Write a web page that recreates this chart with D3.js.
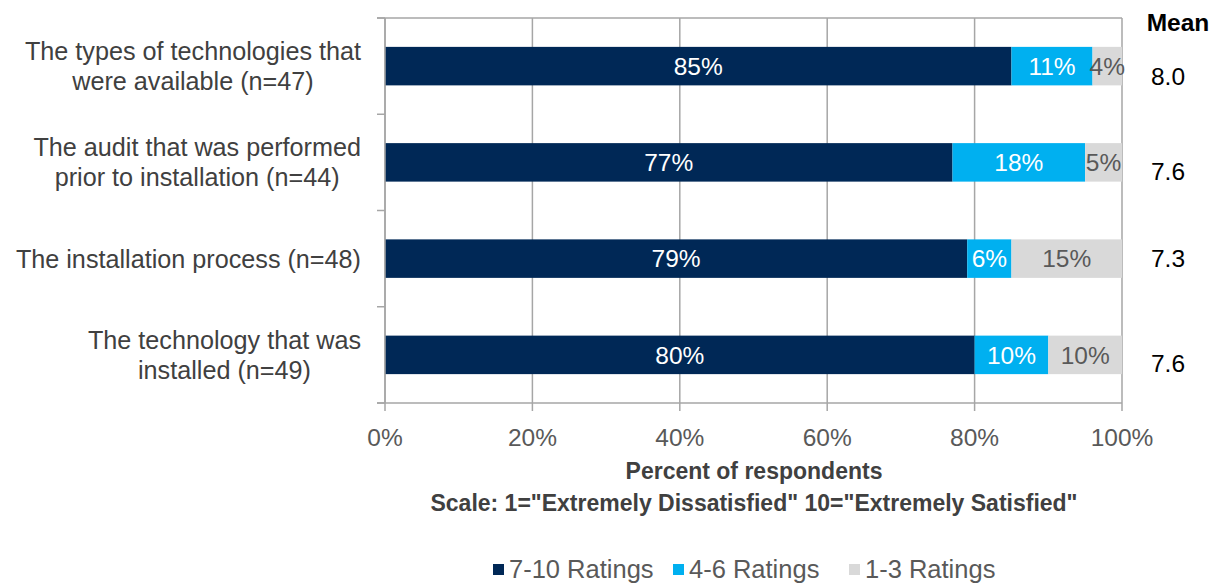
<!DOCTYPE html>
<html><head><meta charset="utf-8">
<script src="https://cdn.jsdelivr.net/npm/d3@7"></script>
<style>body{margin:0;background:#fff;} text{font-family:"Liberation Sans",Arial,sans-serif;}</style>
</head><body><svg id="c" width="1217" height="585"></svg>
<script>
const categories = [
  ["The types of technologies that","were available (n=47)"],
  ["The audit that was performed","prior to installation (n=44)"],
  ["The installation process (n=48)"],
  ["The technology that was","installed (n=49)"]
];
const seriesNames = ["7-10 Ratings","4-6 Ratings","1-3 Ratings"];
const high = [85, 77, 79, 80];
const mid = [11, 18, 6, 10];
const low = [4, 5, 15, 10];
const means = ["8.0","7.6","7.3","7.6"];
const xTicks = [0,20,40,60,80,100];
const colors = ["#002856","#00B0F0","#D9D9D9"];
const labelColors = ["#ffffff","#ffffff","#595959"];

const FS = 24.5;
const svg = d3.select("#c");
const L = 385, R = 1122, T = 18, B = 403;
const x = d3.scaleLinear().domain([0,100]).range([L,R]);
const y = d3.scaleBand().domain(d3.range(categories.length)).range([T,B]).paddingInner(0.6).paddingOuter(0.3);
const yb = d3.scaleBand().domain(d3.range(categories.length)).range([T,B]);

svg.append("g").selectAll("line").data(xTicks).join("line")
  .attr("x1",d=>x(d)).attr("x2",d=>x(d)).attr("y1",T).attr("y2",B+8)
  .attr("stroke","#a6a6a6").attr("stroke-width",1.5);
svg.append("line").attr("x1",L-8).attr("x2",R).attr("y1",T).attr("y2",T).attr("stroke","#a6a6a6").attr("stroke-width",1.5);
svg.append("line").attr("x1",L-8).attr("x2",R).attr("y1",B).attr("y2",B).attr("stroke","#a6a6a6").attr("stroke-width",1.5);
svg.append("g").selectAll("line").data(d3.range(categories.length+1)).join("line")
  .attr("x1",L-8).attr("x2",L).attr("y1",i=>T+i*yb.step()).attr("y2",i=>T+i*yb.step())
  .attr("stroke","#a6a6a6").attr("stroke-width",1.5);

const stacked = d3.stack().keys([0,1,2]).value((d,k)=>d[k])(high.map((h,i)=>[h,mid[i],low[i]]));
stacked.forEach((s,k)=>{
  const g = svg.append("g");
  g.selectAll("rect").data(s).join("rect")
    .attr("x",d=>x(d[0])).attr("width",d=>x(d[1])-x(d[0]))
    .attr("y",(d,i)=>y(i)).attr("height",y.bandwidth()).attr("fill",colors[k]);
  g.selectAll("text").data(s).join("text")
    .attr("x",d=>(x(d[0])+x(d[1]))/2).attr("y",(d,i)=>y(i)+y.bandwidth()/2)
    .attr("dy","0.36em").attr("text-anchor","middle").attr("font-size",FS)
    .attr("fill",labelColors[k]).text(d=>(d[1]-d[0])+"%");
});
svg.append("line").attr("x1",L).attr("x2",L).attr("y1",T).attr("y2",B).attr("stroke","#a6a6a6").attr("stroke-width",1.5);

categories.forEach((lines,i)=>{
  const cy = yb(i)+yb.bandwidth()/2;
  const t = svg.append("text").attr("text-anchor","middle").attr("font-size",25.2).attr("fill","#404040");
  const spans = lines.map((ln,j)=>t.append("tspan").attr("y",cy + (j-(lines.length-1)/2)*30).attr("dy","0.36em").text(ln));
  const maxW = d3.max(spans, s=>s.node().getComputedTextLength());
  spans.forEach(s=>s.attr("x",361-maxW/2));
});

svg.append("g").selectAll("text").data(xTicks).join("text")
  .attr("x",d=>x(d)).attr("y",437).attr("dy","0.36em").attr("text-anchor","middle")
  .attr("font-size",FS).attr("fill","#595959").text(d=>d+"%");

svg.append("text").attr("x",754).attr("y",471).attr("dy","0.36em").attr("text-anchor","middle")
  .attr("font-size",23).attr("font-weight","bold").attr("fill","#404040").text("Percent of respondents");
svg.append("text").attr("x",754).attr("y",503).attr("dy","0.36em").attr("text-anchor","middle")
  .attr("font-size",23).attr("font-weight","bold").attr("fill","#404040").text('Scale: 1="Extremely Dissatisfied" 10="Extremely Satisfied"');

svg.append("text").attr("x",1178).attr("y",22).attr("dy","0.36em").attr("text-anchor","middle")
  .attr("font-size",FS).attr("font-weight","bold").attr("fill","#000").text("Mean");
const meanOffsets = [10, 9, 0, 8];
svg.append("g").selectAll("text").data(means).join("text")
  .attr("x",1168).attr("y",(d,i)=>y(i)+y.bandwidth()/2+meanOffsets[i]).attr("dy","0.36em").attr("text-anchor","middle")
  .attr("font-size",FS).attr("fill","#000").text(d=>d);

const legX = [493, 673, 849];
const lg = svg.append("g");
seriesNames.forEach((n,k)=>{
  lg.append("rect").attr("x",legX[k]).attr("y",564).attr("width",11).attr("height",11).attr("fill",colors[k]);
  lg.append("text").attr("x",legX[k]+16).attr("y",569).attr("dy","0.36em").attr("font-size",25.5).attr("fill","#595959").text(n);
});
</script></body></html>
